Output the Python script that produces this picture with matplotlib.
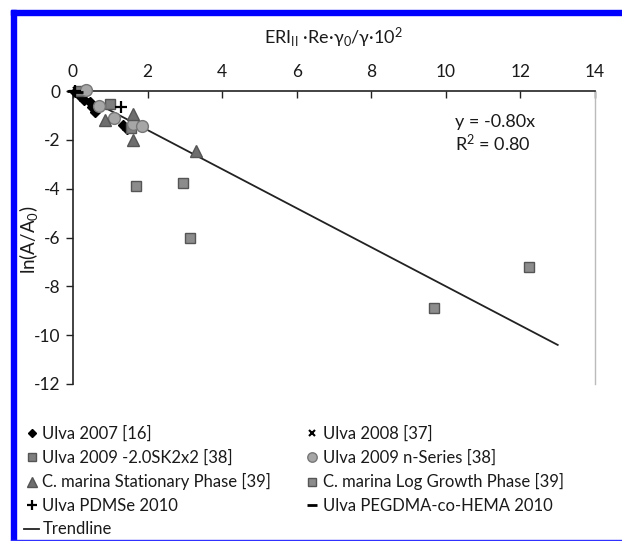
import matplotlib
matplotlib.use("Agg")
import matplotlib.pyplot as plt
from matplotlib.lines import Line2D
from matplotlib.patches import Rectangle

plt.rcParams['font.family'] = ['Lato', 'DejaVu Sans']
plt.rcParams['mathtext.fontset'] = 'custom'
plt.rcParams['mathtext.rm'] = 'Lato'
plt.rcParams['mathtext.it'] = 'Lato:italic'

# ---- data ----
ulva2007_x = [0.05, 0.2, 0.3, 0.45, 0.5, 0.6, 1.35, 1.45]
ulva2007_y = [-0.05, -0.2, -0.35, -0.45, -0.65, -0.85, -1.4, -1.55]

ulva2008_x = [0.1, 0.2]
ulva2008_y = [0.0, -0.1]

ulva2009sk_x = [0.2, 1.0, 1.55]
ulva2009sk_y = [0.0, -0.55, -1.5]

ulva2009n_x = [0.35, 0.7, 1.1, 1.6, 1.85]
ulva2009n_y = [0.05, -0.6, -1.1, -1.35, -1.45]

stat_x = [0.85, 1.6, 1.6, 3.3]
stat_y = [-1.2, -0.95, -2.0, -2.46]

logg_x = [1.69, 2.95, 3.14, 9.68, 12.22]
logg_y = [-3.89, -3.77, -6.02, -8.9, -7.21]

pdmse_x = [0.05, 1.3]
pdmse_y = [0.0, -0.65]

pegdma_x = [0.0, 0.1]
pegdma_y = [0.0, -0.05]

slope = -0.80
trend_x = [0, 13]
trend_y = [slope * v for v in trend_x]

xticks = [0, 2, 4, 6, 8, 10, 12, 14]
yticks = [0, -2, -4, -6, -8, -10, -12]

# ---- figure ----
fig = plt.figure(figsize=(6.22, 5.41), dpi=100)
W, H = 622, 541
ax = fig.add_axes([73 / W, (H - 384) / H, (595 - 73) / W, (384 - 91) / H])

txt = '#1a1a1a'
ax.plot(trend_x, trend_y, color='#222222', lw=1.3, zorder=2)

kw = dict(linestyle='none', clip_on=False, zorder=3)
h2007, = ax.plot(ulva2007_x, ulva2007_y, marker='D', ms=5.5, mfc='black', mec='black', **kw)
h2008, = ax.plot(ulva2008_x, ulva2008_y, marker='x', ms=6, mew=1.5, color='black', **kw)
hsk, = ax.plot(ulva2009sk_x, ulva2009sk_y, marker='s', ms=7.5, mfc='#7f7f7f', mec='#555555', **kw)
hn, = ax.plot(ulva2009n_x, ulva2009n_y, marker='o', ms=8.5, mfc='#a6a6a6', mec='#777777', **kw)
hst, = ax.plot(stat_x, stat_y, marker='^', ms=8.5, mfc='#6e6e6e', mec='#555555', **kw)
hlog, = ax.plot(logg_x, logg_y, marker='s', ms=7.5, mfc='#8c8c8c', mec='#555555', **kw)
hpd, = ax.plot(pdmse_x, pdmse_y, marker='+', ms=9, mew=1.6, color='black', **kw)
hpe, = ax.plot(pegdma_x, pegdma_y, marker='_', ms=9, mew=2, color='black', **kw)

ax.set_xlim(0, 14)
ax.set_ylim(-12, 0)
ax.xaxis.tick_top()
ax.xaxis.set_label_position('top')
ax.set_xticks(xticks)
ax.set_yticks(yticks)
ax.set_xticklabels([str(v) for v in xticks])
ax.set_yticklabels([str(v) for v in yticks])
ax.tick_params(axis='x', direction='in', length=5, width=1, colors='#222222',
               labelsize=12.5, labelcolor=txt, pad=8)
ax.tick_params(axis='y', direction='out', length=5, width=1, colors='#222222',
               labelsize=12.5, labelcolor=txt, pad=4)
ax.spines['bottom'].set_visible(False)
ax.spines['right'].set_color('#bbbbbb')
ax.spines['right'].set_linewidth(1.0)
ax.spines['left'].set_color('#222222')
ax.spines['top'].set_color('#222222')
ax.spines['left'].set_linewidth(1.2)
ax.spines['top'].set_linewidth(1.2)

ax.set_xlabel('ERI$_{\\mathrm{II}}$ ·Re·γ$_{\\mathrm{0}}$/γ·10$^{\\mathrm{2}}$', fontsize=13,
              color=txt, labelpad=14)
fig.text(29 / W, (H - 240) / H, 'ln(A/A$_{\\mathrm{0}}$)', fontsize=13.5, color=txt,
         rotation=90, ha='center', va='center')

fig.text(455 / W, (H - 122) / H, 'y = -0.80x', fontsize=13, color=txt, va='center')
fig.text(455 / W, (H - 143) / H, 'R$^{\\mathrm{2}}$ = 0.80', fontsize=13, color=txt, va='center')

htr = Line2D([], [], color='#222222', lw=1.3)
handles = [h2007, hsk, hst, hpd, htr, h2008, hn, hlog, hpe]
labels = ['Ulva 2007 [16]', 'Ulva 2009 -2.0SK2x2 [38]', 'C. marina Stationary Phase [39]',
          'Ulva PDMSe 2010', 'Trendline',
          'Ulva 2008 [37]', 'Ulva 2009 n-Series [38]', 'C. marina Log Growth Phase [39]',
          'Ulva PEGDMA-co-HEMA 2010']
leg = fig.legend(handles, labels, loc='upper left', bbox_to_anchor=(24 / W, (H - 426) / H),
                 ncol=2, frameon=False, fontsize=12, handlelength=0.9, handletextpad=0.2,
                 columnspacing=2.0, labelspacing=0.45, borderpad=0, borderaxespad=0,
                 markerscale=0.8)
for t in leg.get_texts():
    t.set_color(txt)

# blue frame
fig.patches.append(Rectangle((11 / W, 0), 5 / W, (H - 10) / H, transform=fig.transFigure,
                             color='#0000ff', zorder=10))
fig.patches.append(Rectangle((11 / W, (H - 15) / H), (W - 11) / W, 5 / H, transform=fig.transFigure,
                             color='#0000ff', zorder=10))
fig.patches.append(Rectangle((11 / W, 0), (W - 11) / W, 1.5 / H, transform=fig.transFigure,
                             color='#3030ff', zorder=10))

fig.savefig('out.png', dpi=100)
